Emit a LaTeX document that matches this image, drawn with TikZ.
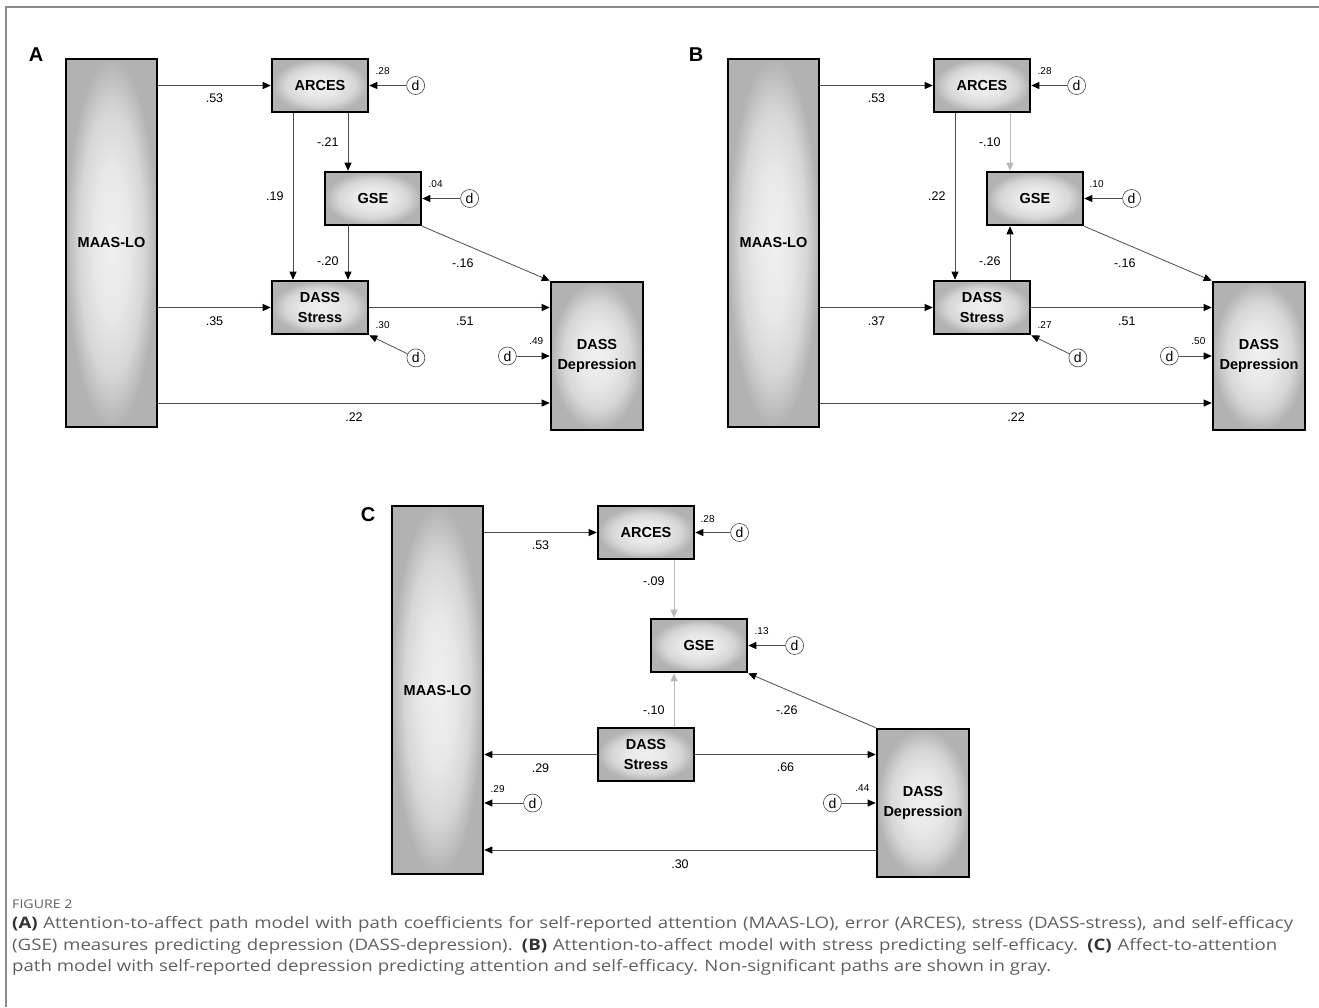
\documentclass[tikz,border=0pt]{standalone}
\usepackage{fontspec}
\setmainfont{Liberation Sans}
\newfontfamily\capfont[FakeStretch=1.18]{Open Sans}
\usetikzlibrary{arrows.meta,positioning}
\definecolor{capgray}{HTML}{606060}
\definecolor{nsgray}{HTML}{B8B8B8}
\pgfdeclareradialshading{boxshade}{\pgfpointorigin}{color(0bp)=(black!6); color(10bp)=(black!9); color(18bp)=(black!16); color(25bp)=(black!30); color(50bp)=(black!30)}
\tikzset{
  var/.style={draw=black, line width=2.6pt, inner sep=0pt, align=center,
              shading=boxshade,
              font=\fontsize{14.5}{20}\selectfont\bfseries},
  err/.style={circle, draw=black!75, line width=0.6pt, fill=white,
              minimum size=18pt, inner sep=0pt, font=\fontsize{14}{14}\selectfont},
  pth/.style={line width=0.8pt, -{Triangle[length=8pt,width=7pt,color=black]},
              every edge/.append style={draw=black!70}},
  ns/.style={line width=0.8pt, -{Triangle[length=8pt,width=7pt]},
             every edge/.append style={draw=nsgray}},
  coef/.style={inner sep=0pt, font=\fontsize{12.5}{14}\selectfont},
  rsq/.style={inner sep=0pt, font=\fontsize{10}{12}\selectfont},
  capline/.style={anchor=base west, inner sep=0pt, text=capgray,
                  font=\capfont\fontsize{15.8}{20}\selectfont}
}

\begin{document}
\begin{tikzpicture}[x=1pt,y=-1pt]
  \useasboundingbox (0,0) rectangle (1319,1007);
  \draw[black!45, line width=2pt] (6,1007) -- (6,7) -- (1319,7);

  % the three panels share one layout
  \foreach \p/\dx/\dy/\lx/\ly in {A/0/0/36/55, B/662/0/696/55, C/326/447/368/515}{
    \node[font=\fontsize{20}{20}\selectfont\bfseries] (lbl\p) at (\lx,\ly) {\p};
    \begin{scope}[shift={(\dx,\dy)}]
      \node[var, minimum width=91pt, minimum height=368pt] (maas\p) at (111.5,243)   {MAAS-LO};
      \node[var, minimum width=96pt, minimum height=53pt]  (arc\p)  at (320,85.5)    {ARCES};
      \node[var, minimum width=96pt, minimum height=53pt]  (gse\p)  at (373,198.5)   {GSE};
      \node[var, minimum width=96pt, minimum height=53pt]  (str\p)  at (320,307.5)   {DASS\\Stress};
      \node[var, minimum width=92pt, minimum height=148pt] (dep\p)  at (597,356)     {DASS\\Depression};
    \end{scope}
    \coordinate (ra\p) at ([xshift=28pt]arc\p.south);
    \coordinate (la\p) at ([xshift=-27pt]arc\p.south);
    \coordinate (dl\p) at ([yshift=-47pt]dep\p.west);
  }

  % A
  \node[err, right=37pt of arcA] (darcA) {d};
  \node[err, right=38pt of gseA] (dgseA) {d};
  \node[err, below right=16pt and 40pt of strA.south east] (dstrA) {d};
  \node[err, left=33pt of depA] (ddepA) {d};

  \path[pth] (maasA.east |- arcA) edge node[coef, below=8pt] {.53} (arcA)
             (maasA.east |- strA) edge node[coef, below=9pt] {.35} (strA)
             (maasA.east |- dlA)  edge node[coef, below=9pt] {.22} (dlA)
             (strA) edge node[coef, below=9pt, pos=0.53] {.51} (strA -| depA.west)
             (raA) edge node[coef, left=9pt] {-.21} (raA |- gseA.north)
             (laA) edge node[coef, left=9pt] {.19} (laA |- strA.north)
             (raA |- gseA.south) edge node[coef, left=9pt, pos=0.65] {-.20} (raA |- strA.north)
             (gseA.south east) edge node[coef, below left=5pt and 12pt] {-.16} (depA.north west)
             (darcA) edge node[rsq, pos=1, above right=11pt and 6pt] {.28} (arcA)
             (dgseA) edge node[rsq, pos=1, above right=11pt and 6pt] {.04} (gseA)
             (dstrA) edge node[rsq, pos=1, above right=6pt and 6pt] {.30} (strA.south east)
             (ddepA) edge node[rsq, pos=1, above left=11pt and 6pt] {.49} (depA);

  % B
  \node[err, right=36pt of arcB] (darcB) {d};
  \node[err, right=38pt of gseB] (dgseB) {d};
  \node[err, below right=16pt and 40pt of strB.south east] (dstrB) {d};
  \node[err, left=33pt of depB] (ddepB) {d};

  \path[pth] (maasB.east |- arcB) edge node[coef, below=8pt] {.53} (arcB)
             (maasB.east |- strB) edge node[coef, below=9pt] {.37} (strB)
             (maasB.east |- dlB)  edge node[coef, below=9pt] {.22} (dlB)
             (strB) edge node[coef, below=9pt, pos=0.53] {.51} (strB -| depB.west)
             (laB) edge node[coef, left=9pt] {.22} (laB |- strB.north)
             (raB |- strB.north) edge node[coef, left=9pt, pos=0.35] {-.26} (raB |- gseB.south)
             (gseB.south east) edge node[coef, below left=5pt and 12pt] {-.16} (depB.north west)
             (darcB) edge node[rsq, pos=1, above right=11pt and 6pt] {.28} (arcB)
             (dgseB) edge node[rsq, pos=1, above right=11pt and 5pt] {.10} (gseB)
             (dstrB) edge node[rsq, pos=1, above right=6pt and 6pt] {.27} (strB.south east)
             (ddepB) edge node[rsq, pos=1, above left=11pt and 6pt] {.50} (depB);
  \path[ns] (raB) edge node[coef, left=9pt] {-.10} (raB |- gseB.north);

  % C
  \node[err, right=35pt of arcC] (darcC) {d};
  \node[err, right=37pt of gseC] (dgseC) {d};
  \node[err, left=34pt of depC] (ddepC) {d};
  \coordinate (mresC) at (maasC.east |- ddepC);
  \node[err, right=39pt of mresC] (dmaasC) {d};

  \path[pth] (maasC.east |- arcC) edge node[coef, below=8pt] {.53} (arcC)
             (strC) edge node[coef, below=9pt] {.29} (strC -| maasC.east)
             (strC) edge node[coef, below=8pt] {.66} (strC -| depC.west)
             (dlC)  edge node[coef, below=9pt] {.30} (dlC -| maasC.east)
             (depC.north west) edge node[coef, below left=5pt and 14pt] {-.26} (gseC.south east)
             (darcC) edge node[rsq, pos=1, above right=10pt and 5pt] {.28} (arcC)
             (dgseC) edge node[rsq, pos=1, above right=11pt and 6pt] {.13} (gseC)
             (dmaasC) edge node[rsq, pos=1, above right=10pt and 6pt] {.29} (mresC)
             (ddepC) edge node[rsq, pos=1, above left=11pt and 6pt] {.44} (depC);
  \path[ns] (raC) edge node[coef, left=9pt, pos=0.37] {-.09} (raC |- gseC.north)
            (raC |- strC.north) edge node[coef, left=9pt, pos=0.3] {-.10} (raC |- gseC.south);

  % caption
  \node[capline, font=\capfont\fontsize{12}{14}\selectfont] (fig) at (12,908) {FIGURE 2};
  \node[capline] (capA) at (12,928) {\makebox[1281pt][s]{\textbf{\color{black!80}(A)} Attention-to-affect path model with path coefficients for self-reported attention (MAAS-LO), error (ARCES), stress (DASS-stress), and self-efficacy}};
  \node[capline] (capB) at (12,950) {\makebox[1265pt][s]{(GSE) measures predicting depression (DASS-depression). \textbf{\color{black!80}(B)} Attention-to-affect model with stress predicting self-efficacy. \textbf{\color{black!80}(C)} Affect-to-attention}};
  \node[capline] (capC) at (12,971) {path model with self-reported depression predicting attention and self-efficacy. Non-significant paths are shown in gray.};
\end{tikzpicture}
\end{document}
